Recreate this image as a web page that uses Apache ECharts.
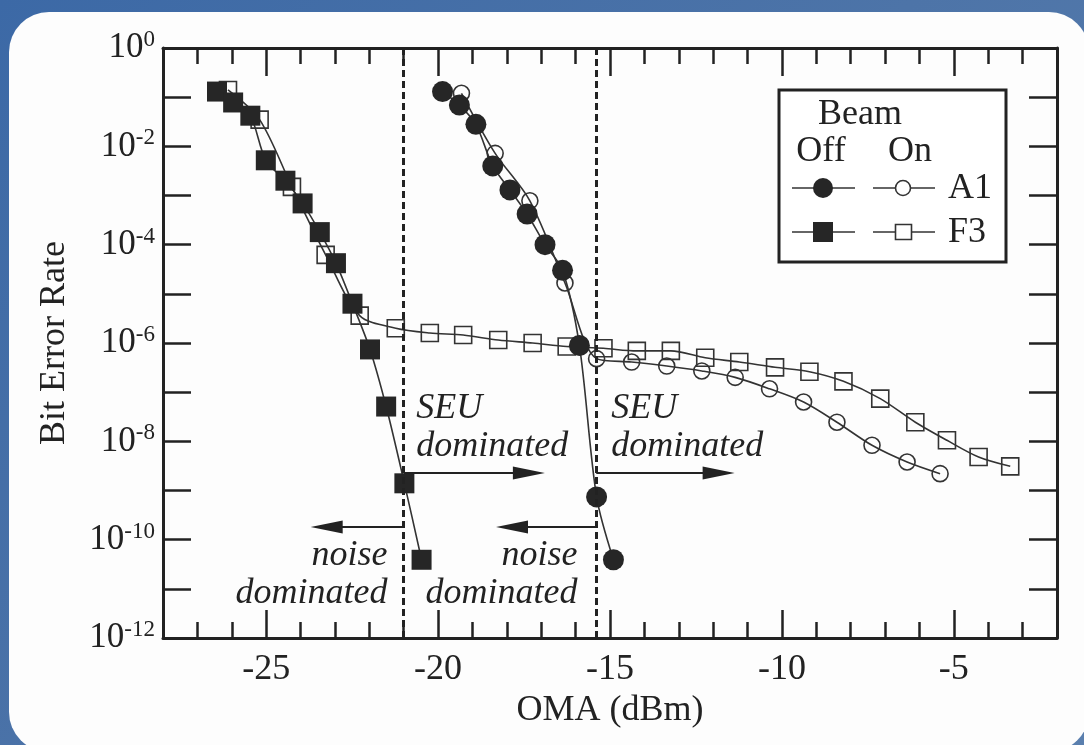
<!DOCTYPE html>
<html><head><meta charset="utf-8">
<script src="https://cdn.jsdelivr.net/npm/echarts@6/dist/echarts.min.js"></script>
<style>html,body{margin:0;padding:0;background:linear-gradient(135deg,#3c69a6 0%,#4d74a8 50%,#5a7fae 100%);} #c{width:1084px;height:745px;}</style>
</head><body><div id="c"></div>
<script>
// ---- data (OMA dBm, bit error rate) ----
const xMajorTicks = [-25, -20, -15, -10, -5];
const a1Off = [[-19.87,0.13],[-19.38,0.069],[-18.90,0.028],[-18.41,4.0e-3],[-17.91,1.3e-3],[-17.41,4.2e-4],[-16.89,1.0e-4],[-16.38,3.0e-5],[-15.89,8.9e-7],[-15.39,7.4e-10],[-14.90,3.9e-11]];
const a1On = [[-19.32,0.12],[-18.34,7.2e-3],[-17.33,7.8e-4],[-16.31,1.66e-5],[-15.39,4.8e-7],[-14.37,4.1e-7],[-13.35,3.4e-7],[-12.33,2.7e-7],[-11.36,2.0e-7],[-10.36,1.17e-7],[-9.37,6.3e-8],[-8.40,2.45e-8],[-7.38,8.3e-9],[-6.36,3.8e-9],[-5.40,2.2e-9]];
const f3Off = [[-26.43,0.13],[-25.96,0.078],[-25.46,0.042],[-25.01,5.2e-3],[-24.44,2.0e-3],[-23.94,6.9e-4],[-23.44,1.8e-4],[-22.97,4.2e-5],[-22.49,6.3e-6],[-21.98,7.4e-7],[-21.51,5.1e-8],[-20.98,1.4e-9],[-20.48,3.9e-11]];
const f3On = [[-26.11,0.14],[-25.19,0.035],[-24.25,1.5e-3],[-23.27,6.2e-5],[-22.28,3.6e-6],[-21.23,2.0e-6],[-20.24,1.6e-6],[-19.27,1.45e-6],[-18.25,1.15e-6],[-17.25,1.0e-6],[-16.26,8.5e-7],[-15.19,7.8e-7],[-14.22,6.9e-7],[-13.23,6.9e-7],[-12.23,5.0e-7],[-11.24,4.1e-7],[-10.20,3.2e-7],[-9.20,2.6e-7],[-8.21,1.66e-7],[-7.14,7.4e-8],[-6.12,2.45e-8],[-5.20,1.05e-8],[-4.28,4.8e-9],[-3.36,3.1e-9]];
const boundaries = [-21, -15.4];
const seuArrowY = 2.26e-9, noiseArrowY = 1.8e-10;
const seuArrows = [[-21, -17.36], [-15.4, -11.84]];
const noiseArrows = [[-21, -23.24], [-15.4, -17.85]];
const seuLabels = [[-20.62, 1.09e-7], [-14.95, 1.09e-7]];
const noiseLabels = [[-21.46, 1.11e-10], [-15.93, 1.11e-10]];

const FONT = "'Liberation Serif','Times New Roman',serif";
const INK = '#222';
const chart = echarts.init(document.getElementById('c'), null, {renderer: 'canvas'});

function lineSeries(name, data, symbol, size, filled, z) {
  return {
    name, type: 'line', data, smooth: 0.3, z,
    symbol, symbolSize: size, showAllSymbol: true,
    lineStyle: {color: '#333', width: 1.6},
    itemStyle: filled ? {color: '#262626', borderWidth: 0}
                      : {color: 'rgba(255,255,255,0)', borderColor: '#333', borderWidth: 1.6},
    emphasis: {disabled: true}
  };
}

const xBase = {type: 'value', min: -28, max: -2, splitLine: {show: false}};
const tickStyle = {color: INK, width: 2.5};

const legendGraphics = [
  {type: 'rect', shape: {x: 779, y: 90, width: 227, height: 172}, style: {fill: '#fff', stroke: INK, lineWidth: 3}},
  {type: 'text', style: {text: 'Beam', x: 860, y: 115, align: 'center', verticalAlign: 'middle', font: "36px " + FONT, fill: INK}},
  {type: 'text', style: {text: 'Off', x: 821, y: 152, align: 'center', verticalAlign: 'middle', font: "36px " + FONT, fill: INK}},
  {type: 'text', style: {text: 'On', x: 910, y: 152, align: 'center', verticalAlign: 'middle', font: "36px " + FONT, fill: INK}},
  {type: 'line', shape: {x1: 792, y1: 188, x2: 855, y2: 188}, style: {stroke: '#333', lineWidth: 1.6}},
  {type: 'circle', shape: {cx: 823, cy: 188, r: 10}, style: {fill: '#262626'}},
  {type: 'line', shape: {x1: 873, y1: 188, x2: 935, y2: 188}, style: {stroke: '#333', lineWidth: 1.6}},
  {type: 'circle', shape: {cx: 903, cy: 188, r: 7.5}, style: {fill: '#fff', stroke: '#333', lineWidth: 1.6}},
  {type: 'text', style: {text: 'A1', x: 948, y: 189, align: 'left', verticalAlign: 'middle', font: "36px " + FONT, fill: INK}},
  {type: 'line', shape: {x1: 792, y1: 232, x2: 855, y2: 232}, style: {stroke: '#333', lineWidth: 1.6}},
  {type: 'rect', shape: {x: 813, y: 222, width: 20, height: 20}, style: {fill: '#262626'}},
  {type: 'line', shape: {x1: 873, y1: 232, x2: 935, y2: 232}, style: {stroke: '#333', lineWidth: 1.6}},
  {type: 'rect', shape: {x: 895.5, y: 224.5, width: 16, height: 15}, style: {fill: '#fff', stroke: '#333', lineWidth: 1.6}},
  {type: 'text', style: {text: 'F3', x: 948, y: 233, align: 'left', verticalAlign: 'middle', font: "36px " + FONT, fill: INK}}
].map(g => Object.assign({z: 100}, g));

const annoLabel = (text, align) => ({
  show: true, position: [0, 0], align, verticalAlign: 'top',
  formatter: text, fontFamily: FONT, fontStyle: 'italic', fontSize: 36, lineHeight: 38, color: INK
});

const option = {
  animation: false,
  backgroundColor: 'transparent',
  graphic: [
    {type: 'rect', z: -100, shape: {x: 9, y: 12, width: 1080, height: 740, r: 40}, style: {fill: '#fdfdfd'}},
    ...legendGraphics
  ],
  grid: {left: 163, right: 27, top: 48, bottom: 107, containLabel: false},
  xAxis: [
    Object.assign({}, xBase, {position: 'bottom', interval: 1,
      axisLine: {show: true, lineStyle: {color: INK, width: 3}},
      axisTick: {show: true, inside: true, length: 16, lineStyle: tickStyle},
      axisLabel: {show: false},
      name: 'OMA (dBm)', nameLocation: 'middle', nameGap: 55,
      nameTextStyle: {fontFamily: FONT, fontSize: 36, color: INK}}),
    Object.assign({}, xBase, {position: 'bottom',
      axisLine: {show: false},
      axisTick: {show: true, inside: true, length: 28, customValues: xMajorTicks, lineStyle: tickStyle},
      axisLabel: {show: true, customValues: xMajorTicks, margin: 14, fontFamily: FONT, fontSize: 36, color: INK}}),
    Object.assign({}, xBase, {position: 'top', interval: 1,
      axisLine: {show: true, lineStyle: {color: INK, width: 3}},
      axisTick: {show: true, inside: true, length: 16, lineStyle: tickStyle},
      axisLabel: {show: false}}),
    Object.assign({}, xBase, {position: 'top',
      axisLine: {show: false},
      axisTick: {show: true, inside: true, length: 28, customValues: xMajorTicks, lineStyle: tickStyle},
      axisLabel: {show: false}})
  ],
  yAxis: [
    {type: 'log', logBase: 10, min: 1e-12, max: 1, interval: 1, position: 'left',
      splitLine: {show: false},
      axisLine: {show: true, lineStyle: {color: INK, width: 3}},
      axisTick: {show: true, inside: true, length: 28, lineStyle: tickStyle},
      axisLabel: {show: true, margin: 8,
        formatter: v => { const e = Math.round(Math.log10(v)); return (e % 2) ? '' : '{b|10}{s|' + e + '}'; },
        rich: {
          b: {fontFamily: FONT, fontSize: 35, color: INK},
          s: {fontFamily: FONT, fontSize: 23, color: INK, padding: [0, 0, 16, 0]}
        }},
      name: 'Bit Error Rate', nameLocation: 'middle', nameRotate: 90, nameGap: 90,
      nameTextStyle: {fontFamily: FONT, fontSize: 36, color: INK}},
    {type: 'log', logBase: 10, min: 1e-12, max: 1, interval: 1, position: 'right',
      splitLine: {show: false},
      axisLine: {show: true, lineStyle: {color: INK, width: 3}},
      axisTick: {show: true, inside: true, length: 28, lineStyle: tickStyle},
      axisLabel: {show: false}}
  ],
  series: [
    Object.assign(lineSeries('A1 on', a1On, 'circle', 16, false, 3), {
      markLine: {silent: true, symbol: 'none', animation: false,
        label: {show: false},
        lineStyle: {color: INK, width: 3, type: [7, 4]},
        data: boundaries.map(b => ({xAxis: b}))}
    }),
    Object.assign(lineSeries('F3 on', f3On, 'rect', 17, false, 3), {
      markLine: {silent: true, symbol: ['none', 'triangle'], symbolSize: [13, 32], animation: false,
        label: {show: false},
        lineStyle: {color: INK, width: 2, type: 'solid'},
        data: [
          ...seuArrows.map(a => [{coord: [a[0], seuArrowY]}, {coord: [a[1], seuArrowY]}]),
          ...noiseArrows.map(a => [{coord: [a[0], noiseArrowY]}, {coord: [a[1], noiseArrowY]}])
        ]}
    }),
    Object.assign(lineSeries('A1 off', a1Off, 'circle', 21, true, 4), {
      markPoint: {silent: true, symbol: 'circle', symbolSize: 1, itemStyle: {color: 'rgba(0,0,0,0)'},
        data: seuLabels.map(p => ({coord: p, label: annoLabel('SEU\ndominated', 'left')}))}
    }),
    Object.assign(lineSeries('F3 off', f3Off, 'rect', 20, true, 4), {
      markPoint: {silent: true, symbol: 'circle', symbolSize: 1, itemStyle: {color: 'rgba(0,0,0,0)'},
        data: noiseLabels.map(p => ({coord: p, label: annoLabel('noise\ndominated', 'right')}))}
    })
  ]
};
chart.setOption(option);
</script></body></html>
